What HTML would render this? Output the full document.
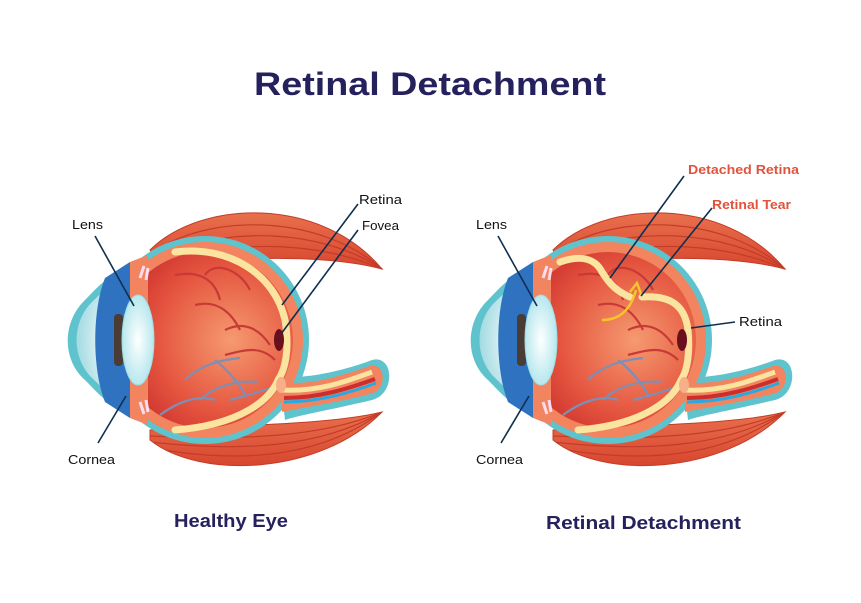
<!DOCTYPE html>
<html><head><meta charset="utf-8"><style>
html,body{margin:0;padding:0;background:#fff;}
svg{display:block;}
text{font-family:"Liberation Sans",sans-serif;}
</style></head><body>
<svg width="861" height="603" viewBox="0 0 861 603" xmlns="http://www.w3.org/2000/svg">
<defs>
<radialGradient id="gl" cx="0.65" cy="0.5" r="0.7"><stop offset="0" stop-color="#f59a70"/><stop offset="0.6" stop-color="#e5553f"/><stop offset="1" stop-color="#c92d2b"/></radialGradient>
<radialGradient id="cor" cx="0.5" cy="0.5" r="0.6"><stop offset="0" stop-color="#ffffff"/><stop offset="1" stop-color="#8fd3dc"/></radialGradient>
<radialGradient id="lens" cx="0.5" cy="0.5" r="0.6"><stop offset="0" stop-color="#ffffff"/><stop offset="1" stop-color="#a8e3ea"/></radialGradient>
<linearGradient id="mus" x1="0" y1="0" x2="0" y2="1"><stop offset="0" stop-color="#e9704d"/><stop offset="1" stop-color="#d7462f"/></linearGradient>
<clipPath id="mb"><path d="M150,430 C230,425 330,425 382,412 C320,475 200,480 150,440 Z"/></clipPath>
<g id="eye">
  <!-- muscles -->
  <path d="M150,250 C200,200 320,195 382,269 C330,255 230,255 160,268 Z" fill="url(#mus)" stroke="#c43c28" stroke-width="1"/>
  <g stroke="#c43c28" stroke-width="1.2" fill="none">
    <path d="M165,245 C220,215 320,215 382,269"/>
    <path d="M170,252 C230,228 320,228 382,269"/>
    <path d="M175,259 C240,240 320,242 382,269"/>
  </g>
  <path d="M150,430 C230,425 330,425 382,412 C320,475 200,480 150,440 Z" fill="url(#mus)" stroke="#c43c28" stroke-width="1"/>
  <g stroke="#c43c28" stroke-width="1.2" fill="none" clip-path="url(#mb)">
    <path d="M150,436 C240,440 320,438 382,412"/>
    <path d="M150,442 C240,452 320,448 382,412"/>
    <path d="M152,448 C240,464 320,458 382,412"/>
  </g>
  <!-- cornea -->
  <path d="M150,262 C110,270 100,285 85,300 C62,322 62,360 85,380 C100,395 110,410 150,420 Z" fill="#5fc3cd"/>
  <path d="M150,268 C115,276 105,290 90,304 C72,324 72,356 90,376 C105,390 115,404 150,414 Z" fill="url(#cor)"/>
  <!-- optic nerve + globe outline -->
  <path d="M280,376 C300,380 340,372 372,360 C394,354 396,394 372,400 C330,410 300,415 285,420 Z" fill="#5fc3cd"/>
  <circle cx="205" cy="340" r="104" fill="#5fc3cd"/>
  <path d="M282,382 C310,386 340,376 370,366 C386,362 388,390 370,394 C330,404 300,408 282,412 Z" fill="#f2845f"/>
  <circle cx="205" cy="340" r="98" fill="#f2845f"/>
  <path d="M282,390 C320,392 350,380 372,372" stroke="#fbe3a0" stroke-width="5" fill="none"/>
  <path d="M284,398 C320,398 350,388 375,379" stroke="#cc2d2d" stroke-width="4" fill="none"/>
  <path d="M284,402 C320,402 352,392 376,383" stroke="#27a9e1" stroke-width="3" fill="none"/>
  <circle cx="205" cy="340" r="88" fill="url(#gl)"/>
  <!-- blue front band -->
  <path d="M130,262 L105,278 C92,310 92,370 105,402 L130,418 Z" fill="#2f73c0"/>
  <path d="M130,262 L148,255 L148,425 L130,418 Z" fill="#f2845f"/>
  <!-- iris -->
  <rect x="114" y="314" width="9" height="52" rx="4" fill="#4a3b35"/>
  <!-- lens -->
  <ellipse cx="138" cy="340" rx="16" ry="45" fill="url(#lens)" stroke="#9fdbe2" stroke-width="1"/>
  <path d="M140,278 l4,-12 M146,280 l2,-12 M140,402 l4,12 M146,400 l2,12" stroke="#fde" stroke-width="3"/>
  <!-- vessels -->
  <g stroke="#c83a35" stroke-width="2.2" fill="none">
    <path d="M175,275 C200,270 215,280 220,300 M205,275 C215,260 240,270 250,290 M195,305 C215,300 230,310 240,330 M225,330 C245,320 260,330 270,345 M225,355 C245,350 260,345 275,360"/>
  </g>
  <g stroke="#7d8fb5" stroke-width="2.2" fill="none">
    <path d="M185,380 C200,365 220,360 240,358 M200,400 C215,385 240,380 258,382 M215,360 C230,372 240,385 245,395 M160,415 C180,400 200,395 215,400 M230,400 C250,395 265,390 280,385"/>
  </g>
</g>
</defs>

<text x="430" y="95" text-anchor="middle" font-size="32" font-weight="bold" fill="#25215c" textLength="352" lengthAdjust="spacingAndGlyphs">Retinal Detachment</text>

<!-- LEFT EYE -->
<use href="#eye"/>
<path d="M175,252 C230,245 275,275 285,320 C290,350 285,370 278,380 C270,400 240,425 175,430" stroke="#fbe3a0" stroke-width="7" fill="none" stroke-linecap="round"/>
<ellipse cx="279" cy="340" rx="5" ry="11" fill="#6a0f1d"/>
<ellipse cx="281" cy="385" rx="5" ry="8" fill="#f5b08a"/>
<g stroke="#0f2f4f" stroke-width="1.6">
<line x1="95" y1="236" x2="134" y2="306"/>
<line x1="98" y1="443" x2="126" y2="396"/>
<line x1="358" y1="204" x2="282" y2="305"/>
<line x1="358" y1="230" x2="281" y2="334"/>
</g>
<g font-size="13" fill="#111">
<text x="72" y="229" textLength="31" lengthAdjust="spacingAndGlyphs">Lens</text>
<text x="68" y="464" textLength="47" lengthAdjust="spacingAndGlyphs">Cornea</text>
<text x="359" y="204" textLength="43" lengthAdjust="spacingAndGlyphs">Retina</text>
<text x="362" y="230" textLength="37" lengthAdjust="spacingAndGlyphs">Fovea</text>
</g>
<text x="174" y="527" font-size="18" font-weight="bold" fill="#25215c" textLength="114" lengthAdjust="spacingAndGlyphs">Healthy Eye</text>

<!-- RIGHT EYE -->
<use href="#eye" transform="translate(403,0)"/>
<path d="M560,262 C580,255 595,258 602,272 C610,285 618,292 630,297" stroke="#fbe3a0" stroke-width="7" fill="none" stroke-linecap="round"/>
<path d="M642,297 C670,295 685,305 688,330 C690,350 688,370 681,380 C673,400 643,425 578,430" stroke="#fbe3a0" stroke-width="7" fill="none" stroke-linecap="round"/>
<ellipse cx="682" cy="340" rx="5" ry="11" fill="#6a0f1d"/>
<ellipse cx="684" cy="385" rx="5" ry="8" fill="#f5b08a"/>
<path d="M602,320 C618,320 630,312 636,290" stroke="#f7c52a" stroke-width="2.5" fill="none"/>
<path d="M630,292 L637,283 L641,294" stroke="#f7c52a" stroke-width="2.5" fill="none"/>
<g stroke="#0f2f4f" stroke-width="1.6">
<line x1="498" y1="236" x2="537" y2="306"/>
<line x1="501" y1="443" x2="529" y2="396"/>
<line x1="684" y1="176" x2="610" y2="278"/>
<line x1="712" y1="208" x2="641" y2="296"/>
<line x1="691" y1="328" x2="735" y2="322"/>
</g>
<g font-size="13" fill="#111">
<text x="476" y="229" textLength="31" lengthAdjust="spacingAndGlyphs">Lens</text>
<text x="476" y="464" textLength="47" lengthAdjust="spacingAndGlyphs">Cornea</text>
<text x="739" y="326" textLength="43" lengthAdjust="spacingAndGlyphs">Retina</text>
</g>
<text x="688" y="174" font-size="13" font-weight="bold" fill="#e0533d" textLength="111" lengthAdjust="spacingAndGlyphs">Detached Retina</text>
<text x="712" y="209" font-size="13" font-weight="bold" fill="#e0533d" textLength="79" lengthAdjust="spacingAndGlyphs">Retinal Tear</text>
<text x="546" y="529" font-size="18" font-weight="bold" fill="#25215c" textLength="195" lengthAdjust="spacingAndGlyphs">Retinal Detachment</text>
</svg>
</body></html>
